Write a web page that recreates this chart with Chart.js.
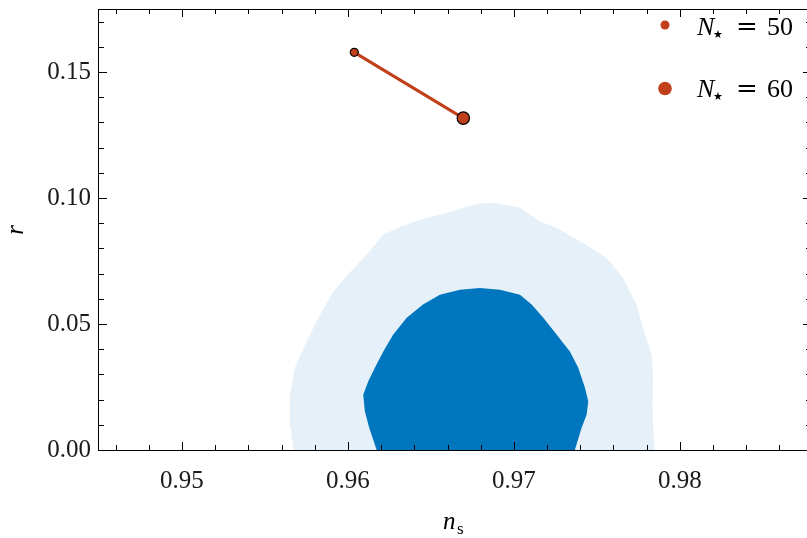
<!DOCTYPE html>
<html>
<head>
<meta charset="utf-8">
<script src="https://cdn.jsdelivr.net/npm/chart.js@4/dist/chart.umd.min.js"></script>
<style>
  html, body { margin: 0; padding: 0; background: #fff; overflow: hidden; }
  #wrap { width: 807px; height: 538px; overflow: hidden; }
</style>
</head>
<body>
<div id="wrap"><canvas id="c" width="820" height="538"></canvas></div>
<script>
// predictions for N_star = 50 and 60
const nStar = [50, 60];
const nsPred = [0.96038, 0.96695];
const rPred = [0.1578, 0.1317];

// 95% region (light) outline
const ns95 = [0.95671, 0.95655, 0.95651, 0.95681, 0.95715, 0.95771, 0.95842, 0.95910, 0.96000,
  0.96113, 0.96211, 0.96301, 0.96434, 0.96633, 0.96753, 0.96825, 0.96873, 0.97036, 0.97157,
  0.97257, 0.97398, 0.97558, 0.97657, 0.97739, 0.97777, 0.97830, 0.97839, 0.97835, 0.97839, 0.97849];
const r95 = [0.0, 0.0088, 0.0219, 0.0327, 0.0378, 0.0457, 0.0549, 0.0628, 0.0696,
  0.0775, 0.0854, 0.0882, 0.0914, 0.0947, 0.0973, 0.0980, 0.0980, 0.0962, 0.0907,
  0.0882, 0.0828, 0.0763, 0.0684, 0.0577, 0.0485, 0.0378, 0.0287, 0.0193, 0.0088, 0.0];

// 68% region (dark) outline
const ns68 = [0.96173, 0.96128, 0.96102, 0.96092, 0.96122, 0.96163, 0.96213, 0.96273, 0.96354,
  0.96452, 0.96554, 0.96675, 0.96795, 0.96916, 0.97036, 0.97107, 0.97177, 0.97257, 0.97337,
  0.97387, 0.97428, 0.97448, 0.97438, 0.97408, 0.97367];
const r68 = [0.0, 0.0088, 0.0153, 0.0219, 0.0272, 0.0327, 0.0391, 0.0458, 0.0525,
  0.0577, 0.0616, 0.0636, 0.0643, 0.0636, 0.0616, 0.0577, 0.0525, 0.0458, 0.0391,
  0.0327, 0.0247, 0.0193, 0.0140, 0.0088, 0.0];

const xTicks = [0.95, 0.96, 0.97, 0.98];
const yTicks = [0.00, 0.05, 0.10, 0.15];
const xMinor = [0.946, 0.948, 0.952, 0.954, 0.956, 0.958, 0.962, 0.964, 0.966, 0.968,
  0.972, 0.974, 0.976, 0.978, 0.982, 0.984, 0.986];
const yMinor = [0.01, 0.02, 0.03, 0.04, 0.06, 0.07, 0.08, 0.09, 0.11, 0.12, 0.13, 0.14, 0.16, 0.17];

const RED = '#c1401b';
const DARK = '#0076be';
const LIGHT = '#e5f0f8';
const SERIF = '"Liberation Serif", "DejaVu Serif", serif';

const toPts = (xs, ys) => xs.map((v, i) => ({ x: v, y: ys[i] }));

const framePlugin = {
  id: 'frame',
  afterDraw(chart) {
    const { ctx, chartArea: a, scales: { x, y } } = chart;
    ctx.save();
    ctx.strokeStyle = '#000';
    ctx.lineWidth = 1;
    ctx.strokeRect(a.left - 0.5, a.top + 0.5, a.right - a.left, a.bottom - a.top);
    const seg = (x1, y1, x2, y2) => { ctx.beginPath(); ctx.moveTo(x1, y1); ctx.lineTo(x2, y2); ctx.stroke(); };
    const xt = (v, len) => { const p = Math.round(x.getPixelForValue(v)) + 0.5; seg(p, a.bottom, p, a.bottom - len); seg(p, a.top, p, a.top + len); };
    const yt = (v, len) => { const p = Math.round(y.getPixelForValue(v)) + 0.5; seg(a.left, p, a.left + len, p); seg(a.right, p, a.right - len, p); };
    xTicks.forEach(v => xt(v, 8));
    xMinor.forEach(v => xt(v, 5));
    yTicks.forEach(v => yt(v, 8));
    yMinor.forEach(v => yt(v, 5));

    // axis titles
    ctx.fillStyle = '#000';
    ctx.textBaseline = 'alphabetic';
    ctx.font = 'italic 25px ' + SERIF;
    ctx.save();
    ctx.translate(23, 230);
    ctx.rotate(-Math.PI / 2);
    ctx.textAlign = 'center';
    ctx.fillText('r', 0, 0);
    ctx.restore();
    ctx.textAlign = 'left';
    ctx.fillText('n', 443, 529);
    ctx.font = '17px ' + SERIF;
    ctx.fillText('s', 457, 534);

    // legend
    const rows = [{ r: 4.5, y: 25, base: 35 }, { r: 6.8, y: 88.5, base: 97 }];
    rows.forEach((row, i) => {
      ctx.fillStyle = RED;
      ctx.beginPath();
      ctx.arc(665, row.y, row.r, 0, Math.PI * 2);
      ctx.fill();
      ctx.fillStyle = '#000';
      ctx.font = 'italic 26px ' + SERIF;
      ctx.fillText('N', 697, row.base);
      ctx.font = '11px "DejaVu Sans", sans-serif';
      ctx.fillText('\u2605', 713, row.base + 3);
      ctx.font = '26px "DejaVu Serif", serif';
      ctx.fillText('=', 736, row.base);
      ctx.font = '26px ' + SERIF;
      ctx.fillText(String(nStar[i]), 767, row.base);
    });
    ctx.restore();
  }
};

new Chart(document.getElementById('c'), {
  type: 'scatter',
  data: {
    datasets: [
      {
        data: toPts(nsPred, rPred),
        showLine: true,
        borderColor: RED,
        borderWidth: 3,
        backgroundColor: RED,
        pointBackgroundColor: RED,
        pointBorderColor: '#000',
        pointBorderWidth: 1.2,
        pointRadius: [4, 6.2],
        fill: false
      },
      {
        data: toPts(ns68, r68),
        showLine: true,
        borderWidth: 0,
        borderColor: 'rgba(0,0,0,0)',
        backgroundColor: DARK,
        pointRadius: 0,
        fill: 'shape'
      },
      {
        data: toPts(ns95, r95),
        showLine: true,
        borderWidth: 0,
        borderColor: 'rgba(0,0,0,0)',
        backgroundColor: LIGHT,
        pointRadius: 0,
        fill: 'shape'
      }
    ]
  },
  options: {
    responsive: false,
    devicePixelRatio: 1,
    animation: false,
    layout: { padding: { top: 9, right: 9, left: 0, bottom: 0 } },
    plugins: { legend: { display: false }, tooltip: { enabled: false } },
    scales: {
      x: {
        type: 'linear',
        min: 0.945,
        max: 0.9879,
        grid: { display: false, drawTicks: false },
        border: { display: false },
        afterBuildTicks: s => { s.ticks = xTicks.map(v => ({ value: v })); },
        afterFit: s => { s.height = 88; s.paddingLeft = 0; s.paddingRight = 0; },
        ticks: {
          font: { family: SERIF, size: 25 },
          color: '#1a1a1a',
          padding: 16,
          maxRotation: 0,
          callback: v => v.toFixed(2)
        }
      },
      y: {
        type: 'linear',
        min: 0,
        max: 0.175,
        grid: { display: false, drawTicks: false },
        border: { display: false },
        afterBuildTicks: s => { s.ticks = yTicks.map(v => ({ value: v })); },
        afterFit: s => { s.width = 99; s.paddingTop = 0; s.paddingBottom = 0; },
        ticks: {
          font: { family: SERIF, size: 25 },
          color: '#1a1a1a',
          padding: 8,
          callback: v => v.toFixed(2)
        }
      }
    }
  },
  plugins: [framePlugin]
});
</script>
</body>
</html>
